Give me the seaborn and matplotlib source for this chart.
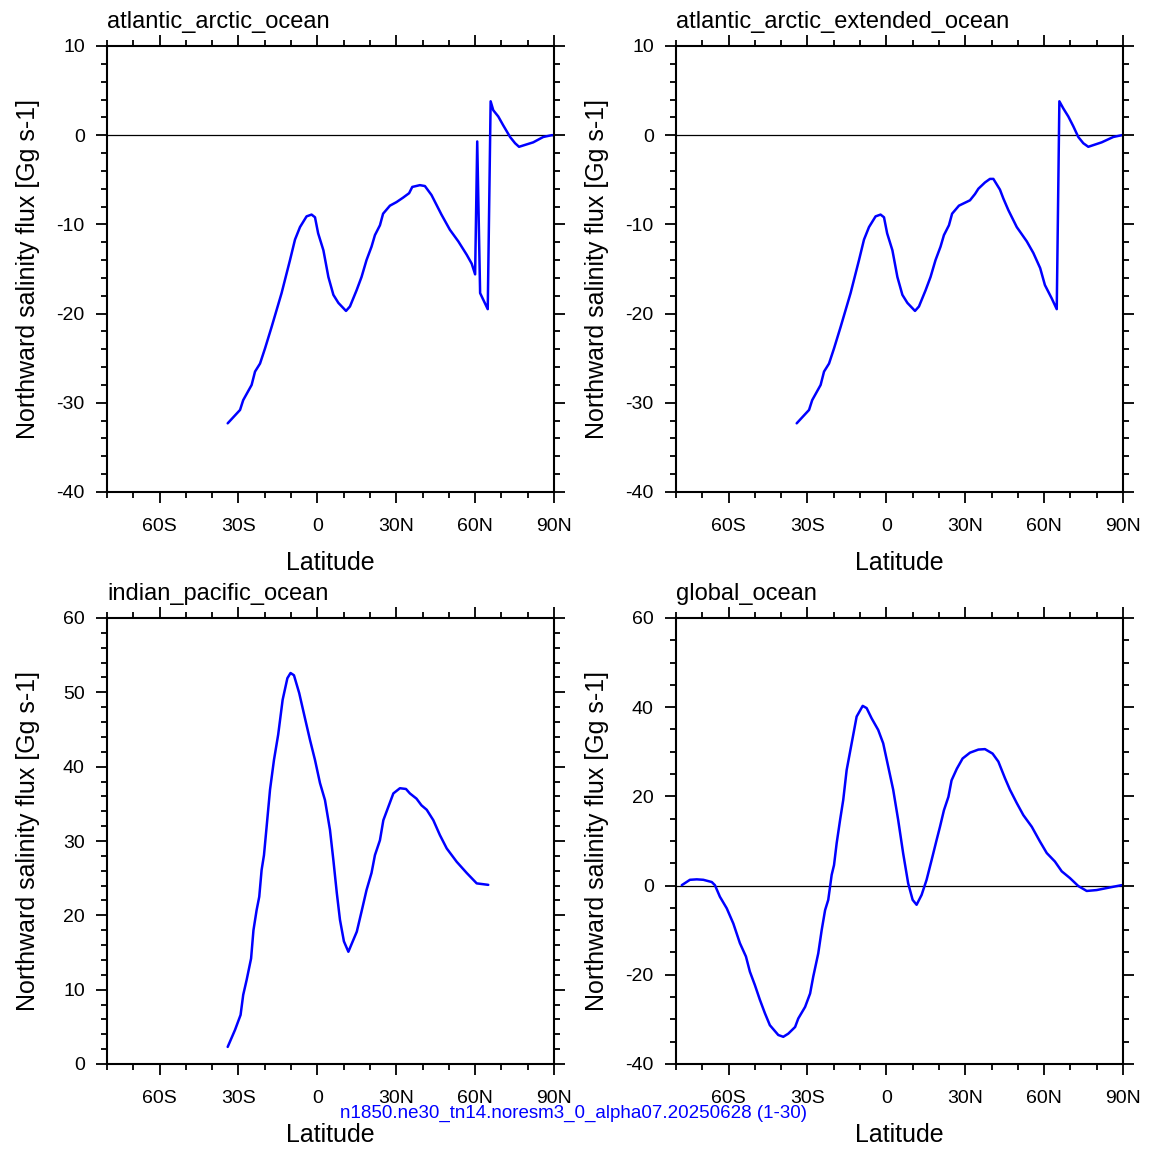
import matplotlib
matplotlib.use('Agg')
import matplotlib.pyplot as plt
import pandas as pd
import seaborn as sns
from matplotlib.ticker import FixedLocator, MultipleLocator

# values
atl_lat = [-34.1, -29.4, -28.2, -25.0, -23.7, -21.8, -19.9, -17.4, -15.5, -13.6, -11.7, -10.4,
           -8.5, -6.6, -4.1, -2.2, -0.9, 0.3, 2.3, 4.2, 6.1, 8.0, 10.9, 12.4, 14.9, 16.8, 18.7,
           20.6, 21.9, 23.8, 25.0, 27.6, 30.1, 32.6, 34.9, 36.1, 39.0, 40.9, 43.4, 45.3, 47.2,
           50.4, 53.6, 56.8, 58.7, 60.0, 60.8, 61.9, 64.8, 65.9, 66.9, 68.8, 70.7, 73.3, 75.2,
           76.7, 82.1, 85.9, 89.1, 90.0]
atl_flux = [-32.3, -30.8, -29.7, -28.0, -26.5, -25.6, -23.9, -21.5, -19.6, -17.7, -15.5, -14.0,
            -11.7, -10.3, -9.1, -8.9, -9.2, -11.0, -12.9, -15.9, -17.9, -18.8, -19.7, -19.2,
            -17.4, -15.9, -14.0, -12.5, -11.2, -10.1, -8.8, -7.9, -7.5, -7.0, -6.5, -5.8, -5.6,
            -5.7, -6.7, -7.8, -8.9, -10.6, -11.9, -13.4, -14.4, -15.6, -0.7, -17.7, -19.5, 3.8,
            2.8, 2.1, 1.1, -0.2, -0.9, -1.3, -0.8, -0.2, 0.0, 0.0]

ext_lat = [-34.1, -29.4, -28.2, -25.0, -23.7, -21.8, -19.9, -17.4, -15.5, -13.6, -11.7, -10.4,
           -8.5, -6.6, -4.1, -2.2, -0.9, 0.3, 2.3, 4.2, 6.1, 8.0, 10.9, 12.4, 14.9, 16.8, 18.7,
           20.6, 21.9, 23.8, 25.0, 27.6, 31.8, 33.7, 35.0, 37.5, 39.4, 40.7, 43.2, 44.5, 46.4,
           49.6, 53.4, 55.9, 58.5, 60.3, 62.9, 64.8, 65.8, 67.3, 69.2, 71.1, 73.0, 74.9, 76.8,
           81.9, 86.3, 89.5, 90.0]
ext_flux = [-32.3, -30.8, -29.7, -28.0, -26.5, -25.6, -23.9, -21.5, -19.6, -17.7, -15.5, -14.0,
            -11.7, -10.3, -9.1, -8.9, -9.2, -11.0, -12.9, -15.9, -17.9, -18.8, -19.7, -19.2,
            -17.4, -15.9, -14.0, -12.5, -11.2, -10.1, -8.8, -7.9, -7.3, -6.6, -6.0, -5.3, -4.9,
            -4.9, -6.1, -7.1, -8.4, -10.3, -11.9, -13.2, -14.9, -16.8, -18.3, -19.5, 3.8, 3.0,
            2.1, 1.0, -0.2, -0.9, -1.3, -0.8, -0.2, 0.0, 0.0]

ip_lat = [-34.1, -31.3, -29.2, -28.2, -26.9, -25.2, -24.3, -23.1, -22.1, -21.2, -20.3, -19.3,
          -18.0, -16.5, -14.9, -13.2, -11.4, -10.2, -8.9, -6.9, -4.7, -2.8, -0.9, 1.0, 2.9, 4.8,
          6.1, 7.4, 8.6, 10.1, 11.8, 13.1, 15.0, 16.8, 18.7, 20.6, 21.9, 23.8, 25.1, 27.0, 28.9,
          31.4, 33.7, 35.2, 37.7, 39.6, 41.6, 44.1, 46.6, 49.2, 53.0, 56.8, 60.6, 65.0]
ip_flux = [2.3, 4.6, 6.6, 9.3, 11.3, 14.2, 18.0, 20.7, 22.5, 26.1, 28.1, 31.9, 36.9, 40.9, 44.3,
           49.0, 51.9, 52.6, 52.3, 49.9, 46.5, 43.6, 40.9, 37.8, 35.5, 31.5, 27.4, 23.0, 19.4,
           16.5, 15.1, 16.2, 17.8, 20.5, 23.4, 25.7, 28.1, 30.1, 32.8, 34.6, 36.4, 37.1, 37.0,
           36.4, 35.7, 34.8, 34.2, 32.8, 30.8, 29.0, 27.2, 25.7, 24.3, 24.1]

glb_lat = [-77.8, -74.7, -72.1, -69.6, -66.4, -65.2, -63.3, -60.7, -58.2, -55.7, -53.4, -51.9,
           -50.0, -48.1, -46.2, -44.3, -41.1, -39.2, -37.3, -34.7, -33.5, -30.9, -29.0, -27.8,
           -25.9, -24.6, -23.3, -22.1, -21.4, -20.8, -19.9, -18.9, -17.6, -16.4, -15.1, -13.2,
           -11.3, -9.0, -7.5, -5.6, -3.1, -1.2, 0.7, 2.6, 4.5, 6.4, 8.3, 10.0, 11.5, 13.4, 15.3,
           17.2, 19.1, 20.4, 21.9, 23.6, 24.8, 26.8, 29.0, 31.8, 35.0, 37.5, 40.4, 42.6, 45.1,
           47.0, 49.6, 52.1, 55.3, 58.4, 61.0, 64.1, 66.7, 69.8, 73.0, 76.2, 80.0, 85.1, 89.5]
glb_flux = [0.1, 1.3, 1.4, 1.3, 0.8, 0.1, -2.5, -5.1, -8.5, -12.9, -15.9, -19.3, -22.3, -25.6,
            -28.6, -31.3, -33.5, -33.9, -33.2, -31.7, -29.8, -27.2, -24.2, -20.4, -15.2, -10.0,
            -5.5, -3.2, -0.2, 2.4, 4.6, 9.5, 14.7, 19.2, 25.9, 31.9, 37.9, 40.3, 39.8, 37.5,
            34.9, 31.9, 26.7, 21.5, 14.7, 7.2, 0.5, -3.2, -4.3, -2.1, 1.3, 5.7, 10.2, 13.2, 16.9,
            19.9, 23.6, 26.2, 28.5, 29.8, 30.5, 30.6, 29.6, 27.8, 24.1, 21.5, 18.5, 15.8, 13.2,
            9.9, 7.3, 5.4, 3.2, 1.7, -0.1, -1.2, -1.0, -0.4, 0.1]

titles = ['atlantic_arctic_ocean', 'atlantic_arctic_extended_ocean',
          'indian_pacific_ocean', 'global_ocean']
lat_ticks = [-60, -30, 0, 30, 60, 90]
lat_labels = ['60S', '30S', '0', '30N', '60N', '90N']
footer = 'n1850.ne30_tn14.noresm3_0_alpha07.20250628 (1-30)'

sns.set_theme(style='ticks')
plt.rcParams['font.family'] = ['Liberation Sans', 'DejaVu Sans']
plt.rcParams['axes.unicode_minus'] = False
plt.rcParams['axes.edgecolor'] = 'black'
plt.rcParams['xtick.color'] = 'black'
plt.rcParams['ytick.color'] = 'black'
plt.rcParams['text.color'] = 'black'
plt.rcParams['axes.labelcolor'] = 'black'

W = H = 1154
fig = plt.figure(figsize=(W / 100, H / 100), dpi=100)


def rect(x0, y0, x1, y1):
    return [x0 / W, 1 - y1 / H, (x1 - x0) / W, (y1 - y0) / H]


panels = [
    (titles[0], atl_lat, atl_flux, (-40, 10), 10, 2, rect(107, 46, 554, 492), True),
    (titles[1], ext_lat, ext_flux, (-40, 10), 10, 2, rect(676, 46, 1123, 492), True),
    (titles[2], ip_lat, ip_flux, (0, 60), 10, 2, rect(107, 618, 554, 1064), False),
    (titles[3], glb_lat, glb_flux, (-40, 60), 20, 5, rect(676, 618, 1123, 1064), True),
]

for title, lat, flux, ylim, major, minor, box, zero in panels:
    ax = fig.add_axes(box)
    df = pd.DataFrame({'lat': lat, 'flux': flux})
    if zero:
        ax.axhline(0, color='black', lw=0.9, zorder=1)
    sns.lineplot(data=df, x='lat', y='flux', ax=ax, color='#0000ff', lw=1.8,
                 sort=False, estimator=None, zorder=2)
    ax.set_xlim(-80, 90)
    ax.set_ylim(*ylim)
    ax.xaxis.set_major_locator(FixedLocator(lat_ticks))
    ax.set_xticklabels(lat_labels)
    ax.xaxis.set_minor_locator(MultipleLocator(10))
    ax.yaxis.set_major_locator(MultipleLocator(major))
    ax.yaxis.set_minor_locator(MultipleLocator(minor))
    ax.tick_params(which='both', direction='out', top=True, right=True,
                   labeltop=False, labelright=False, width=1.3, labelsize=14)
    ax.tick_params(which='major', length=8)
    ax.tick_params(which='minor', length=4)
    ax.tick_params(axis='x', which='major', pad=11)
    ax.tick_params(axis='y', which='major', pad=8)
    for sp in ax.spines.values():
        sp.set_linewidth(1.5)
        sp.set_color('black')
    ax.set_xlabel('Latitude', fontsize=18)
    ax.xaxis.set_label_coords(0.5, -0.133)
    ax.set_ylabel('Northward salinity flux [Gg s-1]', fontsize=18)
    ax.yaxis.set_label_coords(-0.150, 0.5)
    ax.text(0, 1 + 18 / 446, title, transform=ax.transAxes, fontsize=17,
            ha='left', va='baseline')

fig.text(573 / W, 1 - 1113 / H, footer, color='#0000ff', fontsize=13.5,
         ha='center', va='center')

fig.savefig('out.png', dpi=100)
